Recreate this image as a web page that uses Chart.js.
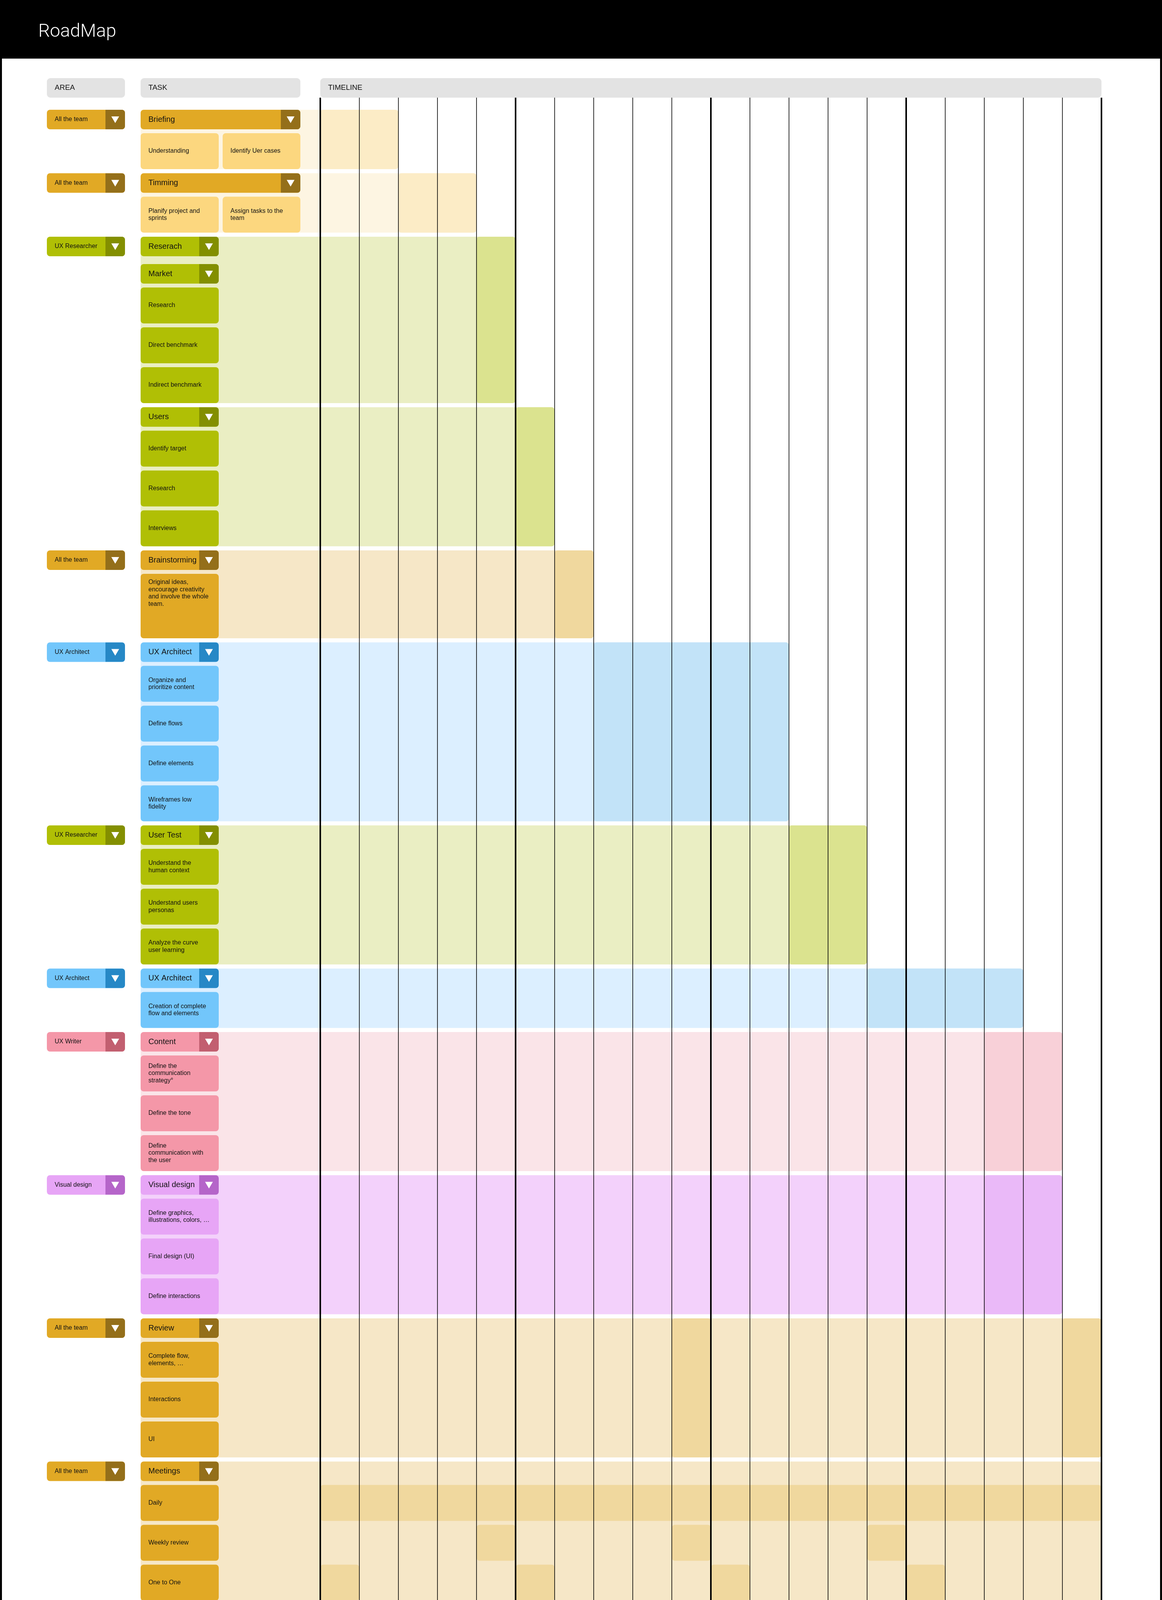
<!DOCTYPE html>
<html>
<head>
<meta charset="utf-8">
<title>RoadMap</title>
<script src="https://cdn.jsdelivr.net/npm/chart.js@4"></script>
<style>
*{margin:0;padding:0;box-sizing:border-box}
html,body{width:2975px;height:4338px;background:#fff;overflow:hidden}
canvas{display:block}
</style>
</head>
<body>
<canvas id="road" width="2975" height="4338"></canvas>
<script>
(function () {
  'use strict';

  // colour sets: pill, dropdown, light band, active block, subtask box
  var PAL = {
    gold:   ['#e1a925', '#946f1a', '#f6e7c7', '#f0d89e', '#e1a925'],
    cream:  ['#e1a925', '#946f1a', '#fdf5e2', '#fcecc6', '#fcd77f'],
    green:  ['#b0bf05', '#838f00', '#eaeec3', '#dbe38f', '#b0bf05'],
    blue:   ['#72c6fb', '#2688c6', '#dcefff', '#c2e3f8', '#72c6fb'],
    pink:   ['#f497a8', '#c25f70', '#fae4e8', '#f8d0d8', '#f497a8'],
    purple: ['#e7a5f6', '#b565c9', '#f3d1fb', '#eab9f8', '#e7a5f6']
  };

  // groups, top to bottom. active: [from week, to week, row index or null = whole group]
  var GROUPS = [
    { area: 'All the team', pal: 'cream', title: 'Briefing', wide: true,
      rows: [['Understanding', 'Identify Uer cases']], active: [[0, 2]] },
    { area: 'All the team', pal: 'cream', title: 'Timming', wide: true,
      rows: [['Planify project and\nsprints', 'Assign tasks to the\nteam']], active: [[2, 4]] },
    { area: 'UX Researcher', pal: 'green', title: 'Reserach', sub: 'Market',
      rows: ['Research', 'Direct benchmark', 'Indirect benchmark'], active: [[4, 5]] },
    { pal: 'green', title: 'Users',
      rows: ['Identify target', 'Research', 'Interviews'], active: [[5, 6]] },
    { area: 'All the team', pal: 'gold', title: 'Brainstorming', tall: 165, top: true,
      rows: ['Original ideas,\nencourage creativity\nand involve the whole\nteam.'], active: [[6, 7]] },
    { area: 'UX Architect', pal: 'blue', title: 'UX Architect',
      rows: ['Organize and\nprioritize content', 'Define flows', 'Define elements', 'Wireframes low\nfidelity'], active: [[7, 12]] },
    { area: 'UX Researcher', pal: 'green', title: 'User Test',
      rows: ['Understand the\nhuman context', 'Understand users\npersonas', 'Analyze the curve\nuser learning'], active: [[12, 14]] },
    { area: 'UX Architect', pal: 'blue', title: 'UX Architect',
      rows: ['Creation of complete\nflow and elements'], active: [[14, 18]] },
    { area: 'UX Writer', pal: 'pink', title: 'Content',
      rows: ['Define the\ncommunication\nstrategy\u00b0', 'Define the tone', 'Define\ncommunication with\nthe user'], active: [[17, 19]] },
    { area: 'Visual design', pal: 'purple', title: 'Visual design',
      rows: ['Define graphics,\nillustrations, colors, \u2026', 'Final design (UI)', 'Define interactions'], active: [[17, 19]] },
    { area: 'All the team', pal: 'gold', title: 'Review', end: 20,
      rows: ['Complete flow,\nelements, \u2026', 'Interactions', 'UI'], active: [[9, 10], [19, 20]] },
    { area: 'All the team', pal: 'gold', title: 'Meetings', end: 20,
      rows: ['Daily', 'Weekly review', 'One to One', 'Retrospective'],
      active: [[0, 20, 0], [4, 5, 1], [9, 10, 1], [14, 15, 1], [0, 1, 2], [5, 6, 2], [10, 11, 2], [15, 16, 2], [19, 20, 3]] }
  ];

  var WEEKS = 20;
  var HEAD = 50, SUB = 92, GAP = 10, GROUP_GAP = 10.5, START = 281;
  var AREA_X = [-7.0, -5.0], TASK_X = -4.6, TASK_NARROW = -2.6, TASK_WIDE = -0.51;
  var FONT = '"Liberation Sans", Helvetica, Arial, sans-serif';

  // work out the vertical layout of every group from the data
  var y = START;
  GROUPS.forEach(function (g) {
    g.y0 = y;
    y += HEAD;
    if (g.sub) { g.subY = y + 20; y += 20 + HEAD; }
    g.rowY = g.rows.map(function () {
      var top = y + GAP; y = top + (g.tall || SUB); return top;
    });
    g.y1 = y;
    y += GROUP_GAP;
  });
  var GRID_END = GROUPS[GROUPS.length - 1].y1;

  function rr(ctx, x0, y0, x1, y1, r, fill) {
    ctx.beginPath();
    ctx.roundRect(x0, y0, x1 - x0, y1 - y0, r);
    ctx.fillStyle = fill;
    ctx.fill();
  }

  function text(ctx, str, x, yc, size, top) {
    var lines = str.split('\n'), lh = size * 1.15;
    ctx.font = size + 'px ' + FONT;
    ctx.fillStyle = '#111';
    ctx.textBaseline = 'middle';
    ctx.textAlign = 'left';
    var first = top ? yc : yc - (lines.length - 1) * lh / 2;
    lines.forEach(function (l, i) { ctx.fillText(l, x, first + i * lh); });
  }

  function pill(ctx, sx, sy, x0, x1, y0, y1, p, label, size) {
    var X0 = sx(x0), X1 = sx(x1), Y0 = sy(y0), Y1 = sy(y1);
    rr(ctx, X0, Y0, X1, Y1, 8, p[0]);
    ctx.save();
    ctx.beginPath(); ctx.rect(X1 - 50, Y0, 50, Y1 - Y0); ctx.clip();
    rr(ctx, X0, Y0, X1, Y1, 8, p[1]);
    ctx.restore();
    var cx = X1 - 25, cy = (Y0 + Y1) / 2;
    ctx.beginPath();
    ctx.moveTo(cx - 10, cy - 8); ctx.lineTo(cx + 10, cy - 8); ctx.lineTo(cx, cy + 9);
    ctx.closePath(); ctx.fillStyle = '#fff'; ctx.fill();
    text(ctx, label, X0 + 20, cy, size);
  }

  var roadmap = {
    id: 'roadmap',
    beforeDraw: function (chart) {
      var ctx = chart.ctx, xs = chart.scales.x, ys = chart.scales.y;
      var sx = function (v) { return xs.getPixelForValue(v); };
      var sy = function (v) { return ys.getPixelForValue(v); };
      var W = chart.width, H = chart.height;

      ctx.save();
      ctx.fillStyle = '#fff'; ctx.fillRect(0, 0, W, H);
      // frame and title bar
      ctx.fillStyle = '#000';
      ctx.fillRect(0, 0, W, sy(150));
      ctx.fillRect(0, 0, 5, H); ctx.fillRect(W - 5, 0, 5, H); ctx.fillRect(0, H - 8, W, 8);
      ctx.font = '300 47px Roboto, ' + FONT;
      ctx.fillStyle = '#fff'; ctx.textBaseline = 'alphabetic';
      ctx.fillText('RoadMap', 98, 94);

      // column headers
      [[AREA_X[0], AREA_X[1], 'AREA'], [TASK_X, TASK_WIDE, 'TASK'], [0, WEEKS, 'TIMELINE']].forEach(function (h) {
        rr(ctx, sx(h[0]), sy(200), sx(h[1]), sy(250), 9, '#e3e3e3');
        text(ctx, h[2], sx(h[0]) + 20, sy(225), 19);
      });

      GROUPS.forEach(function (g) {
        var p = PAL[g.pal];
        var end = g.end || Math.max.apply(null, g.active.map(function (a) { return a[1]; }));
        rr(ctx, sx(TASK_X), sy(g.y0), sx(end), sy(g.y1), 8, p[2]);
        g.active.forEach(function (a) {
          var t = a[2] == null ? g.y0 : g.rowY[a[2]];
          var b = a[2] == null ? g.y1 : g.rowY[a[2]] + (g.tall || SUB);
          rr(ctx, sx(a[0]), sy(t), sx(a[1]), sy(b), 8, p[3]);
        });
        if (g.area) pill(ctx, sx, sy, AREA_X[0], AREA_X[1], g.y0, g.y0 + HEAD, p, g.area, 16);
        pill(ctx, sx, sy, TASK_X, g.wide ? TASK_WIDE : TASK_NARROW, g.y0, g.y0 + HEAD, p, g.title, 20);
        if (g.sub) pill(ctx, sx, sy, TASK_X, TASK_NARROW, g.subY, g.subY + HEAD, p, g.sub, 20);
        g.rows.forEach(function (r, i) {
          var t = g.rowY[i], b = t + (g.tall || SUB);
          var cells = Array.isArray(r) ? r : [r];
          cells.forEach(function (c, k) {
            var x0 = k === 0 ? TASK_X : -2.5, x1 = k === 0 ? TASK_NARROW : TASK_WIDE;
            rr(ctx, sx(x0), sy(t), sx(x1), sy(b), 8, p[4]);
            if (g.top) text(ctx, c, sx(x0) + 20, sy(t) + 22, 16, true);
            else text(ctx, c, sx(x0) + 20, (sy(t) + sy(b)) / 2, 16);
          });
        });
      });

      // week grid lines, heavier every 5 weeks
      ctx.fillStyle = '#000';
      for (var w = 0; w <= WEEKS; w++) {
        var lw = w % 5 === 0 ? 4 : 1.6;
        ctx.fillRect(sx(w) - lw / 2, sy(250), lw, sy(GRID_END) - sy(250));
      }
      ctx.restore();
    }
  };

  new Chart(document.getElementById('road'), {
    type: 'scatter',
    data: { datasets: [{ data: [] }] },
    options: {
      responsive: false, animation: false, devicePixelRatio: 1,
      layout: { padding: 0 },
      plugins: { legend: { display: false }, tooltip: { enabled: false } },
      scales: {
        x: { type: 'linear', display: false, min: -8.2, max: 21.55 },
        y: { type: 'linear', display: false, min: 0, max: 4338, reverse: true }
      }
    },
    plugins: [roadmap]
  });
})();
</script>
</body>
</html>
